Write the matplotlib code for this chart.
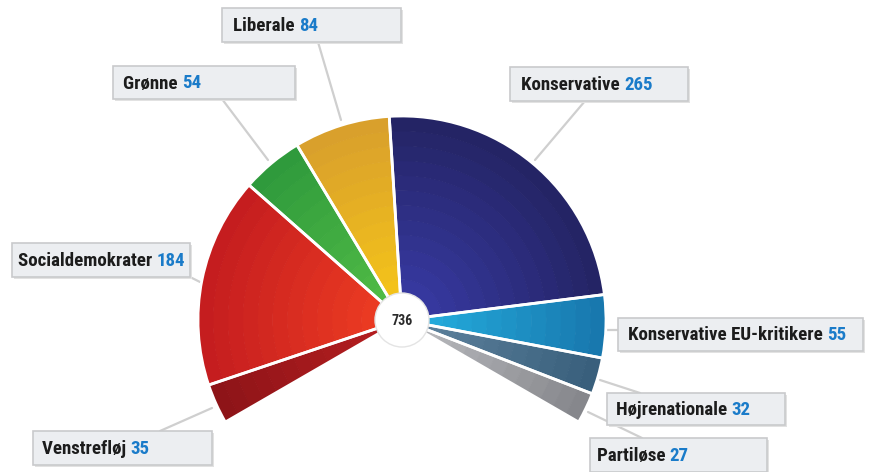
import numpy as np
import matplotlib.pyplot as plt
from matplotlib.patches import Wedge, Circle, Rectangle
from matplotlib.colors import to_rgb

parties = ["Venstrefløj", "Socialdemokrater", "Grønne", "Liberale",
           "Konservative", "Konservative EU-kritikere", "Højrenationale", "Partiløse"]
seats = [35, 184, 54, 84, 265, 55, 32, 27]
inner_colors = ["#b21d1f", "#ea3a22", "#4fba45", "#f3c21a",
                "#36389e", "#23a9da", "#5b7f9a", "#b4b5b9"]
outer_colors = ["#8e1418", "#c51d1f", "#2f9a3c", "#d9a02c",
                "#242465", "#1878ae", "#395f7c", "#86878c"]

# label boxes: (x, y, w, h, text x) in pixels, leader line (x0, y0, x1, y1)
boxes = [
    (33, 431, 179, 34, 42, (160, 431, 212, 408)),
    (12, 243, 178, 34, 18, (190, 277, 200, 282)),
    (113, 66, 182, 33, 123, (222, 99, 268, 160)),
    (222, 8, 179, 34, 233, (318, 42, 341, 120)),
    (510, 67, 178, 34, 521, (585, 101, 535, 160)),
    (618, 318, 245, 33, 628, (604, 330, 618, 330)),
    (607, 393, 178, 32, 616, (600, 380, 640, 393)),
    (590, 438, 177, 34, 597, (588, 412, 642, 438)),
]

W, H = 870, 472
cx, cy, R = 402, 320, 204
span = 240.0
start = 210.0

fig = plt.figure(figsize=(W / 100, H / 100), dpi=100)
ax = fig.add_axes([0, 0, 1, 1])
ax.set_xlim(0, W)
ax.set_ylim(H, 0)
ax.axis("off")

font = ["Roboto Condensed", "Archivo Narrow", "Barlow Condensed", "DejaVu Sans"]

total = sum(seats)
angles = start - np.concatenate([[0], np.cumsum(seats)]) / total * span

# leader lines behind everything
for bx in boxes:
    x0, y0, x1, y1 = bx[5]
    ax.plot([x0, x1], [y0, y1], color="#cfcfcf", lw=1.6, zorder=1,
            solid_capstyle="round")

# wedges with concentric shading
nband = 12
r0 = 26
for i in range(len(seats)):
    a1, a2 = angles[i], angles[i + 1]
    ci = np.array(to_rgb(inner_colors[i]))
    co = np.array(to_rgb(outer_colors[i]))
    for k in range(nband):
        t = k / (nband - 1)
        rout = r0 + (R - r0) * (k + 1) / nband
        bw = (R - r0) / nband + 0.6
        col = ci * (1 - t) + co * t
        ax.add_patch(Wedge((cx, cy), rout, -a1, -a2, width=bw,
                           facecolor=col, edgecolor="none", zorder=2))
    ax.add_patch(Wedge((cx, cy), R, -a1, -a2, facecolor="none",
                       edgecolor="white", lw=2.0, zorder=3))

ax.add_patch(Circle((cx, cy), 27, facecolor="white", edgecolor="#e4e4e4",
                    lw=1, zorder=4))
ax.text(cx, cy + 1, str(total), ha="center", va="center", fontsize=10,
        fontweight="heavy", color="#2a2a2a", family=font, zorder=5)

# label boxes
fig.canvas.draw()
renderer = fig.canvas.get_renderer()
for name, n, bx in zip(parties, seats, boxes):
    x, y, w, h, tx, _ = bx
    ax.add_patch(Rectangle((x + 2, y + 2), w, h, facecolor="#e2e2e2",
                           edgecolor="none", zorder=5))
    ax.add_patch(Rectangle((x, y), w, h, facecolor="#eceef1",
                           edgecolor="#c9cacc", lw=1.2, zorder=6))
    t = ax.text(tx, y + h / 2 + 1, name + " ", ha="left", va="center",
                fontsize=13.6, fontweight="heavy", color="#1c1c1c",
                family=font, zorder=7)
    bb = t.get_window_extent(renderer)
    xe = ax.transData.inverted().transform((bb.x1, bb.y0))[0]
    ax.text(xe, y + h / 2 + 1, str(n), ha="left", va="center",
            fontsize=13.6, fontweight="heavy", color="#1a7bc9",
            family=font, zorder=7)

fig.savefig("out.png", dpi=100, facecolor="white")
